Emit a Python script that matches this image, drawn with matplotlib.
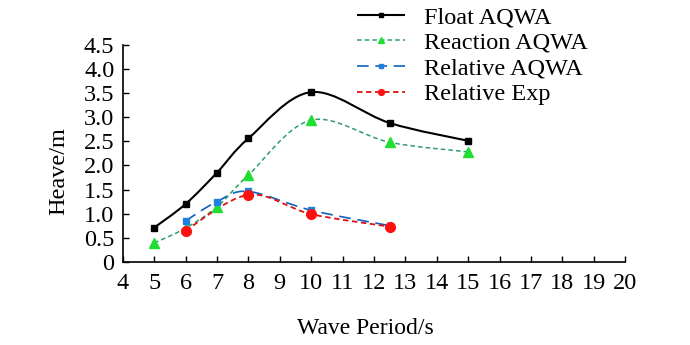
import matplotlib
matplotlib.use("Agg")
import matplotlib.pyplot as plt
import numpy as np
from matplotlib.path import Path
from matplotlib.patches import PathPatch
from matplotlib.lines import Line2D

plt.rcParams['font.family'] = ['Liberation Serif', 'DejaVu Serif']

float_x = [5, 6, 7, 8, 10, 12.5, 15]
float_y = [0.71, 1.20, 1.85, 2.56, 3.52, 2.88, 2.51]
react_x = [5, 6, 7, 8, 10, 12.5, 15]
react_y = [0.39, 0.70, 1.14, 1.80, 2.94, 2.48, 2.28]
rel_x = [6, 7, 8, 10, 12.5]
rel_y = [0.85, 1.25, 1.46, 1.07, 0.75]
exp_x = [6, 8, 10, 12.5]
exp_y = [0.65, 1.39, 0.99, 0.73]

xticks = list(range(4, 21))
yticks = [0, 0.5, 1.0, 1.5, 2.0, 2.5, 3.0, 3.5, 4.0, 4.5]
ytick_labels = ['0', '0.5', '1.0', '1.5', '2.0', '2.5', '3.0', '3.5', '4.0', '4.5']

fig = plt.figure(figsize=(6.9, 3.45), dpi=100)
ax = fig.add_axes([0.178, 0.241, 0.728, 0.629])


def smooth_path(xs, ys):
    P = np.column_stack([xs, ys]).astype(float)
    n = len(P)
    verts = [P[0]]
    codes = [Path.MOVETO]
    for i in range(n - 1):
        p0 = P[i - 1] if i > 0 else P[i]
        p1 = P[i]
        p2 = P[i + 1]
        p3 = P[i + 2] if i + 2 < n else P[i + 1]
        c1 = p1 + (p2 - p0) / 6.0
        c2 = p2 - (p3 - p1) / 6.0
        verts += [c1, c2, p2]
        codes += [Path.CURVE4] * 3
    return Path(verts, codes)


series = [
    (float_x, float_y, 'Float AQWA', '#000000', '#000000', 's', (0, ()), 1.5, 5),
    (react_x, react_y, 'Reaction AQWA', '#2E9E6E', '#22DD33', '^', (0, (3, 2)), 1.1, 7.5),
    (rel_x, rel_y, 'Relative AQWA', '#1060C0', '#2080E0', 's', (0, (7, 4)), 1.2, 5),
    (exp_x, exp_y, 'Relative Exp', '#E01010', '#FF1010', 'o', (0, (3, 2)), 1.3, 7),
]

handles = []
for xs, ys, lab, lc, mc, mk, ls, lw, ms in series:
    patch = PathPatch(smooth_path(xs, ys), facecolor='none', edgecolor=lc,
                      linewidth=lw, linestyle=ls, zorder=2)
    ax.add_patch(patch)
    ax.plot(xs, ys, linestyle='none', marker=mk, color=mc, markersize=ms,
            markeredgecolor=mc, zorder=3)
    handles.append(Line2D([], [], color=lc, linestyle=ls, linewidth=lw,
                          marker=mk, markersize=ms * 0.6, markerfacecolor=mc,
                          markeredgecolor=mc, label=lab))

ax.set_xlim(4, 20)
ax.set_ylim(0, 4.5)
ax.set_xticks(xticks)
ax.set_xticklabels([str(t) for t in xticks])
ax.set_yticks(yticks)
ax.set_yticklabels(ytick_labels)
ax.spines['top'].set_visible(False)
ax.spines['right'].set_visible(False)
ax.spines['left'].set_linewidth(1.2)
ax.spines['bottom'].set_linewidth(1.2)
ax.tick_params(axis='both', direction='in', length=4, width=1, labelsize=17.5)
ax.tick_params(axis='x', pad=8)
ax.tick_params(axis='y', pad=6)
ax.set_xlabel('Wave Period/s', fontsize=17)
ax.set_ylabel('Heave/m', fontsize=17.5)
ax.xaxis.set_label_coords(0.482, -0.258)
ax.yaxis.set_label_coords(-0.106, 0.42)

fig.legend(handles=handles, loc='upper left', bbox_to_anchor=(0.503, 1.01),
           frameon=False, fontsize=17.5, handlelength=2.0, handletextpad=0.75,
           labelspacing=0.15, borderaxespad=0)

fig.savefig('out.png', dpi=100)
